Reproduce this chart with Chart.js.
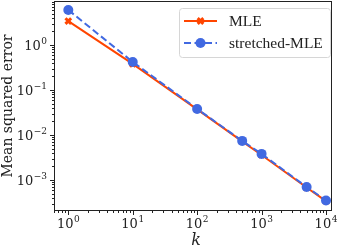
<!DOCTYPE html>
<html>
<head>
<meta charset="utf-8">
<script src="https://cdn.jsdelivr.net/npm/chart.js@4.4.1/dist/chart.umd.min.js"></script>
<style>
  html, body { margin: 0; padding: 0; background: #ffffff; }
  #wrap { width: 339px; height: 249px; }
</style>
</head>
<body>
<div id="wrap"><canvas id="chart" width="339" height="249"></canvas></div>
<script>
// chart data
const kValues = [1, 10, 100, 500, 1000, 5000, 10000];
const mleErrors = [3.4, 0.38, 0.037, 0.0072, 0.0036, 0.00068, 0.00034];
const stretchedErrors = [6.0, 0.42, 0.038, 0.0074, 0.0038, 0.00070, 0.00035];
const seriesNames = ['MLE', 'stretched-MLE'];

// tick labels (powers of ten)
const xTickExps = [0, 1, 2, 3, 4];
const yTickExps = [0, -1, -2, -3];

const xTitle = 'k';
const yTitle = 'Mean squared error';

const SERIF = '"DejaVu Serif", "Liberation Serif", serif';
const TIMES = '"Liberation Serif", serif';
const ORANGE = '#ff4500';
const BLUE = '#4169e1';

// draw "10^n" with a raised exponent
function drawPow(ctx, exp, x, y, align) {
    const base = '10';
    const sup = exp < 0 ? '\u2212' + Math.abs(exp) : String(exp);
    ctx.font = '13px ' + SERIF;
    const wb = ctx.measureText(base).width;
    ctx.font = '9px ' + SERIF;
    const ws = ctx.measureText(sup).width;
    const total = wb + ws + 0.5;
    let left = x;
    if (align === 'center') left = x - total / 2;
    if (align === 'right') left = x - total;
    ctx.textAlign = 'left';
    ctx.textBaseline = 'alphabetic';
    ctx.font = '13px ' + SERIF;
    ctx.fillText(base, left, y);
    ctx.font = '9px ' + SERIF;
    ctx.fillText(sup, left + wb + 0.5, y - 6);
}

const axesPlugin = {
    id: 'axesPlugin',
    afterDatasetsDraw(chart) {
        const ctx = chart.ctx;
        const area = chart.chartArea;
        const xs = chart.scales.x;
        const ys = chart.scales.y;
        ctx.save();
        ctx.fillStyle = '#222';
        ctx.strokeStyle = '#222';
        ctx.lineWidth = 1;

        // minor + major tick marks
        for (let e = -5; e <= 5; e++) {
            for (let m = 1; m <= 9; m++) {
                const v = m * Math.pow(10, e);
                const len = m === 1 ? 4 : 2;
                if (v >= xs.min && v <= xs.max) {
                    const px = Math.round(xs.getPixelForValue(v)) + 0.5;
                    ctx.beginPath();
                    ctx.moveTo(px, area.bottom);
                    ctx.lineTo(px, area.bottom + len);
                    ctx.stroke();
                }
                if (v >= ys.min && v <= ys.max) {
                    const py = Math.round(ys.getPixelForValue(v)) + 0.5;
                    ctx.beginPath();
                    ctx.moveTo(area.left, py);
                    ctx.lineTo(area.left - len, py);
                    ctx.stroke();
                }
            }
        }

        // frame
        ctx.strokeRect(area.left + 0.5, area.top + 0.5, area.right - area.left - 1, area.bottom - area.top - 1);

        // tick labels
        xTickExps.forEach(e => {
            drawPow(ctx, e, xs.getPixelForValue(Math.pow(10, e)), area.bottom + 17, 'center');
        });
        yTickExps.forEach(e => {
            drawPow(ctx, e, area.left - 7, ys.getPixelForValue(Math.pow(10, e)) + 5, 'right');
        });

        // axis titles
        ctx.textAlign = 'center';
        ctx.textBaseline = 'alphabetic';
        ctx.font = 'italic 16px ' + SERIF;
        ctx.fillText(xTitle, (area.left + area.right) / 2 + 3, 245);
        ctx.save();
        ctx.translate(12, (area.top + area.bottom) / 2);
        ctx.rotate(-Math.PI / 2);
        ctx.font = '14px ' + SERIF;
        ctx.fillText(yTitle, 0, 0);
        ctx.restore();

        // legend
        const lx = 179, ly = 8, lw = 151, lh = 49;
        ctx.beginPath();
        ctx.roundRect(lx + 0.5, ly + 0.5, lw, lh, 3);
        ctx.fillStyle = 'rgba(255,255,255,0.85)';
        ctx.fill();
        ctx.strokeStyle = '#d6d6d6';
        ctx.stroke();

        chart.data.datasets.forEach((ds, i) => {
            const cy = 21 + i * 22;
            ctx.strokeStyle = ds.borderColor;
            ctx.fillStyle = ds.pointBackgroundColor;
            ctx.lineWidth = 2;
            ctx.setLineDash(ds.borderDash || []);
            ctx.beginPath();
            ctx.moveTo(184, cy);
            ctx.lineTo(217, cy);
            ctx.stroke();
            ctx.setLineDash([]);
            ctx.lineWidth = ds.pointBorderWidth;
            Chart.helpers.drawPoint(ctx, {
                pointStyle: ds.pointStyle,
                radius: ds.pointRadius,
                borderWidth: ds.pointBorderWidth
            }, 200.5, cy);
            ctx.fillStyle = '#222';
            ctx.textAlign = 'left';
            ctx.font = '15.5px ' + TIMES;
            ctx.fillText(ds.label, 229, cy + 5);
        });
        ctx.restore();
    }
};

new Chart(document.getElementById('chart'), {
    type: 'line',
    data: {
        datasets: [
            {
                label: seriesNames[0],
                data: kValues.map((k, i) => ({ x: k, y: mleErrors[i] })),
                borderColor: ORANGE,
                backgroundColor: ORANGE,
                borderWidth: 2,
                pointStyle: 'crossRot',
                pointRadius: 4,
                pointBorderWidth: 3,
                pointBackgroundColor: ORANGE,
                pointBorderColor: ORANGE,
                order: 2
            },
            {
                label: seriesNames[1],
                data: kValues.map((k, i) => ({ x: k, y: stretchedErrors[i] })),
                borderColor: BLUE,
                backgroundColor: BLUE,
                borderWidth: 2,
                borderDash: [7, 3.5],
                pointStyle: 'circle',
                pointRadius: 5,
                pointBorderWidth: 0,
                pointBackgroundColor: BLUE,
                pointBorderColor: BLUE,
                order: 1
            }
        ]
    },
    options: {
        responsive: false,
        animation: false,
        layout: { autoPadding: false, padding: { top: 1, right: 7, left: 0, bottom: 0 } },
        plugins: { legend: { display: false }, tooltip: { enabled: false } },
        scales: {
            x: {
                type: 'logarithmic',
                min: Math.pow(10, -0.217),
                max: Math.pow(10, 4.093),
                grid: { display: false },
                border: { display: false },
                ticks: { display: false },
                afterFit(scale) { scale.height = 38; }
            },
            y: {
                type: 'logarithmic',
                min: Math.pow(10, -3.689),
                max: Math.pow(10, 0.978),
                grid: { display: false },
                border: { display: false },
                ticks: { display: false },
                afterFit(scale) { scale.width = 54; }
            }
        }
    },
    plugins: [axesPlugin]
});
</script>
</body>
</html>
